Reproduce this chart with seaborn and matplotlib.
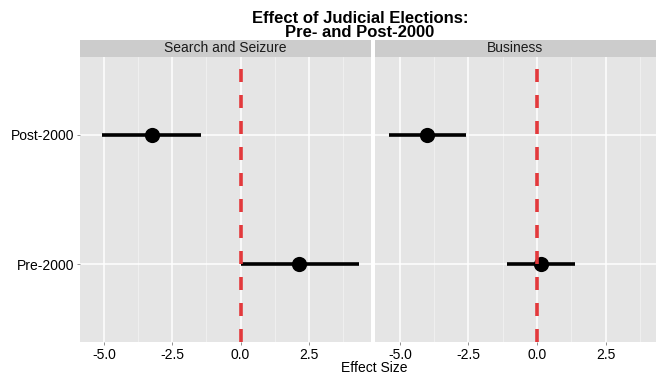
import matplotlib
matplotlib.use("Agg")
import matplotlib.pyplot as plt
import seaborn as sns
import pandas as pd
import numpy as np

# Data
panels = ["Search and Seizure", "Business"]
periods = ["Pre-2000", "Post-2000"]
search_est = [2.15, -3.26]
search_lo = [0.0, -5.07]
search_hi = [4.35, -1.43]
business_est = [0.13, -4.00]
business_lo = [-1.09, -5.40]
business_hi = [1.40, -2.59]
x_ticks = [-5.0, -2.5, 0.0, 2.5]
x_ticklabels = ["-5.0", "-2.5", "0.0", "2.5"]

df = pd.DataFrame({
    "panel": [panels[0]] * 2 + [panels[1]] * 2,
    "period": periods * 2,
    "est": search_est + business_est,
    "lo": search_lo + business_lo,
    "hi": search_hi + business_hi,
})
df["ypos"] = df["period"].map({p: i + 1 for i, p in enumerate(periods)})

sns.set_theme(style="darkgrid")
plt.rcParams["font.family"] = ["Liberation Sans", "DejaVu Sans"]

W, H = 656, 375
fig = plt.figure(figsize=(W / 100, H / 100), dpi=100)

panel_px = [(80, 371), (375, 656)]
xlims = [(-5.88, 4.78), (-5.91, 4.34)]
top_px, bot_px = 57, 342
strip_top = 40

for i, name in enumerate(panels):
    x0, x1 = panel_px[i]
    ax = fig.add_axes([x0 / W, 1 - bot_px / H, (x1 - x0) / W, (bot_px - top_px) / H])
    ax.set_facecolor("#E5E5E5")
    for s in ax.spines.values():
        s.set_visible(False)
    sub = df[df["panel"] == name]
    ax.hlines(sub["ypos"], sub["lo"], sub["hi"], color="black", linewidth=2.6, zorder=3)
    sns.scatterplot(data=sub, x="est", y="ypos", color="black", s=120,
                    edgecolor="black", linewidth=0, ax=ax, zorder=4, legend=False)
    ax.axvline(0, color="#E3393C", linewidth=2.6, linestyle=(0, (3.6, 3.6)), zorder=5)
    ax.set_xticks(x_ticks)
    ax.set_xticks([-3.75, -1.25, 1.25, 3.75], minor=True)
    ax.set_yticks([1, 2])
    ax.set_xlim(*xlims[i])
    ax.set_ylim(0.4, 2.6)
    ax.grid(which="major", color="white", linewidth=1.1)
    ax.grid(which="minor", axis="x", color="#F2F2F2", linewidth=0.6)
    ax.set_axisbelow(True)
    ax.set_xticklabels(x_ticklabels, fontsize=10, color="black")
    ax.tick_params(axis="both", which="major", length=2.5, width=0.6, color="#7F7F7F",
                   pad=1.5, bottom=True, left=(i == 0))
    ax.tick_params(axis="both", which="minor", length=0)
    if i == 0:
        ax.set_yticklabels(periods, fontsize=10, color="black")
    else:
        ax.set_yticklabels([])
    ax.set_xlabel("")
    ax.set_ylabel("")
    # strip
    sax = fig.add_axes([x0 / W, 1 - top_px / H, (x1 - x0) / W, (top_px - strip_top) / H])
    sax.set_facecolor("#CCCCCC")
    sax.set_xticks([])
    sax.set_yticks([])
    for s in sax.spines.values():
        s.set_visible(False)
    cx = (x0 + x1) / 2
    fig.text(cx / W, 1 - (top_px + strip_top) / 2 / H, name, ha="center", va="center",
             fontsize=10, color="#1a1a1a")

fig.text(374 / W, 1 - 367.5 / H, "Effect Size", ha="center", va="center", fontsize=10,
         color="black")
fig.text(360 / W, 1 - 25.5 / H, "Effect of Judicial Elections:\nPre- and Post-2000",
         ha="center", va="center", fontsize=12, fontweight="bold", linespacing=0.95,
         color="black")

fig.savefig("out.png", dpi=100)
